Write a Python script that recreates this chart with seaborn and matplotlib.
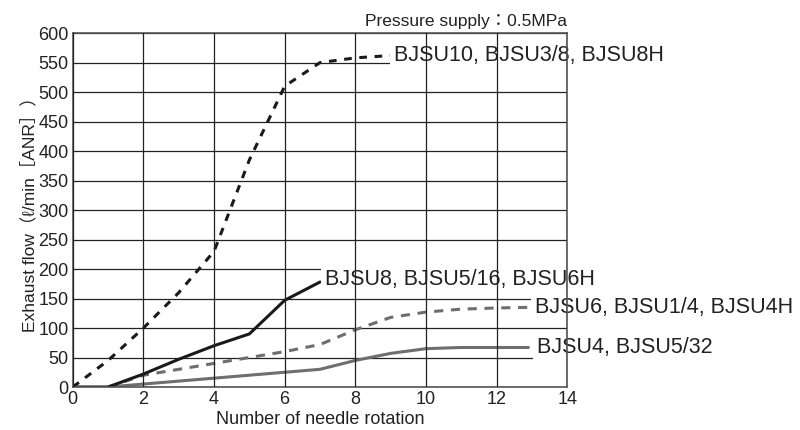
import pandas as pd
import matplotlib
matplotlib.use("Agg")
import matplotlib.pyplot as plt
import seaborn as sns

# Data
rot_10 = [0, 1, 2, 3, 4, 5, 6, 7, 8, 9]
flow_10 = [0, 45, 100, 160, 230, 385, 510, 550, 558, 562]

rot_8 = [0, 1, 2, 3, 4, 5, 6, 7]
flow_8 = [0, 0, 22, 47, 70, 90, 147, 178]

rot_6 = [1, 2, 3, 4, 5, 6, 7, 8, 9, 10, 11, 12, 12.9]
flow_6 = [0, 20, 30, 40, 50, 60, 72, 97, 118, 127, 132, 134, 135]

rot_4 = [1, 2, 3, 4, 5, 6, 7, 8, 9, 10, 11, 12, 12.9]
flow_4 = [0, 5, 10, 15, 20, 25, 30, 45, 57, 65, 67, 67, 67]

labels = ["BJSU10, BJSU3/8, BJSU8H", "BJSU8, BJSU5/16, BJSU6H",
          "BJSU6, BJSU1/4, BJSU4H", "BJSU4, BJSU5/32"]

sns.set_theme(style="white")
plt.rcParams["font.family"] = ["Liberation Sans", "Noto Sans CJK JP", "DejaVu Sans"]

fig = plt.figure(figsize=(8, 4.3), dpi=100)
ax = fig.add_axes([0.091, 0.1, 0.618, 0.823])

ax.grid(True, color="#222222", linewidth=0.9)
ax.set_axisbelow(True)
# vertical grid lines run over the label boxes, horizontal ones do not
ax.xaxis.set_zorder(3.5)

sns.lineplot(x=rot_4, y=flow_4, ax=ax, color="#6e6e6e", linewidth=2.2)
sns.lineplot(x=rot_6, y=flow_6, ax=ax, color="#6e6e6e", linewidth=2.2,
             linestyle=(0, (3, 2.5)))
sns.lineplot(x=rot_8, y=flow_8, ax=ax, color="#1a1a1a", linewidth=2.2)
sns.lineplot(x=rot_10, y=flow_10, ax=ax, color="#1a1a1a", linewidth=2.2,
             linestyle=(0, (2.5, 2.5)))

box = dict(facecolor="white", edgecolor="none", pad=3)
fs = 15.5
ax.text(rot_10[-1] + 0.1, flow_10[-1], labels[0], fontsize=fs, va="center",
        color="#222222", bbox=box, clip_on=False, zorder=3)
ax.text(rot_8[-1] + 0.15, flow_8[-1] + 5, labels[1], fontsize=fs, va="center",
        color="#222222", bbox=box, clip_on=False, zorder=3)
ax.text(rot_6[-1] + 0.2, flow_6[-1], labels[2], fontsize=fs, va="center",
        color="#222222", bbox=box, clip_on=False, zorder=3)
ax.text(rot_4[-1] + 0.25, flow_4[-1], labels[3], fontsize=fs, va="center",
        color="#222222", bbox=box, clip_on=False, zorder=3)

ax.text(1.0, 1.012, "Pressure supply：0.5MPa", transform=ax.transAxes,
        ha="right", va="bottom", fontsize=12.5, color="#222222")

ax.set_xlim(0, 14)
ax.set_ylim(0, 600)
ax.set_xticks(range(0, 15, 2))
ax.set_yticks(range(0, 601, 50))
ax.tick_params(labelsize=13, colors="#222222", length=0)
ax.tick_params(axis="x", pad=3)
ax.tick_params(axis="y", pad=3)
ax.set_xlabel("Number of needle rotation", fontsize=13, color="#222222", labelpad=2)
ax.set_ylabel("Exhaust flow（ℓ/min［ANR］）", fontsize=12.5, color="#222222", labelpad=1)

for s in ax.spines.values():
    s.set_color("#555555")
    s.set_linewidth(1.2)
    s.set_zorder(3.5)

plt.savefig("out.png", dpi=100)
